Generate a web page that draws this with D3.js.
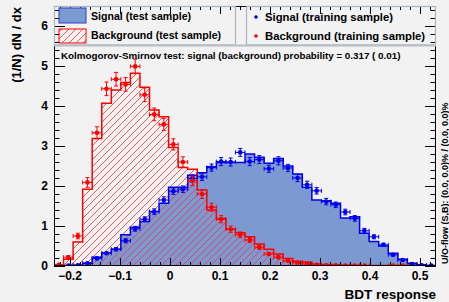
<!DOCTYPE html>
<html>
<head>
<meta charset="utf-8">
<script src="https://cdn.jsdelivr.net/npm/d3@7"></script>
<style>
  html, body { margin: 0; padding: 0; background: #f2f2f2; }
  svg { display: block; }
  text { font-family: "Liberation Sans", Arial, sans-serif; font-weight: bold; fill: #000; }
</style>
</head>
<body>
<div id="chart"></div>
<script>
// Histogram binning (BDT response axis)
const xMin = -0.232;
const xMax = 0.532;
const nBins = 40;

// Signal (test sample), normalised histogram
const sigTest = [0.00, 0.01, 0.02, 0.07, 0.22, 0.33, 0.42, 0.78, 0.97, 1.11,
                 1.36, 1.57, 1.97, 1.97, 2.27, 2.33, 2.48, 2.59, 2.59, 2.59,
                 2.80, 2.72, 2.57, 2.69, 2.50, 2.30, 1.97, 1.65, 1.63, 1.57,
                 1.20, 1.23, 0.82, 0.61, 0.50, 0.32, 0.17, 0.07, 0.03, 0.01];

// Background (test sample)
const bkgTest = [0.02, 0.17, 0.60, 1.92, 3.19, 4.07, 4.40, 4.59, 4.82, 4.47,
                 3.90, 3.73, 2.96, 2.46, 2.42, 1.90, 1.40, 1.19, 0.92, 0.83,
                 0.73, 0.55, 0.42, 0.30, 0.19, 0.12, 0.10, 0.05, 0.04, 0.03,
                 0.02, 0.02, 0.01, 0.01, 0.01, 0.01, 0.01, 0.00, 0.00, 0.00];

// Signal (training sample) points and errors
const sigTrain = [0.01, 0.01, 0.02, 0.07, 0.19, 0.32, 0.42, 0.63, 0.93, 1.17,
                  1.36, 1.65, 1.87, 1.92, 2.19, 2.23, 2.46, 2.61, 2.60, 2.84,
                  2.61, 2.66, 2.43, 2.63, 2.45, 2.20, 2.03, 1.88, 1.61, 1.53,
                  1.35, 1.19, 0.88, 0.73, 0.53, 0.28, 0.15, 0.05, 0.02, 0.01];
const sigTrainErr = [0.00, 0.00, 0.01, 0.02, 0.03, 0.03, 0.04, 0.05, 0.06, 0.06,
                     0.07, 0.08, 0.08, 0.08, 0.09, 0.09, 0.09, 0.10, 0.10, 0.10,
                     0.10, 0.10, 0.09, 0.10, 0.09, 0.09, 0.09, 0.08, 0.08, 0.07,
                     0.07, 0.07, 0.06, 0.05, 0.04, 0.03, 0.02, 0.01, 0.01, 0.01];

// Background (training sample) points and errors
const bkgTrain = [0.03, 0.22, 0.75, 2.09, 3.33, 4.43, 4.67, 4.54, 4.99, 4.28,
                  3.79, 3.54, 3.04, 2.60, 2.13, 1.80, 1.47, 1.17, 0.92, 0.78,
                  0.65, 0.47, 0.30, 0.22, 0.13, 0.08, 0.05, 0.03, 0.02, 0.02,
                  0.01, 0.01, 0.01, 0.00, 0.00, 0.01, 0.01, 0.00, 0.00, 0.00];
const bkgTrainErr = [0.01, 0.04, 0.07, 0.12, 0.15, 0.17, 0.17, 0.17, 0.18, 0.17,
                     0.16, 0.15, 0.14, 0.13, 0.12, 0.11, 0.10, 0.09, 0.08, 0.07,
                     0.06, 0.05, 0.04, 0.04, 0.03, 0.02, 0.02, 0.01, 0.01, 0.01,
                     0.01, 0.01, 0.01, 0.00, 0.00, 0.01, 0.01, 0.00, 0.00, 0.00];

const xTicks = [-0.2, -0.1, 0, 0.1, 0.2, 0.3, 0.4, 0.5];
const yTicks = [0, 1, 2, 3, 4, 5, 6];

const legendLeft = ['Signal (test sample)', 'Background (test sample)'];
const legendRight = ['Signal (training sample)', 'Background (training sample)'];
const ksText = 'Kolmogorov-Smirnov test: signal (background) probability = 0.317 ( 0.01)';
const flowText = 'U/O-flow (S,B): (0.0, 0.0)% / (0.0, 0.0)%';

// Set up the SVG area
const width = 449, height = 302;
const frame = { left: 54, right: 436, top: 6, bottom: 266 };

const svg = d3.select('#chart').append('svg')
  .attr('width', width)
  .attr('height', height);

svg.append('rect').attr('width', width).attr('height', height).attr('fill', '#f2f2f2');

const x = d3.scaleLinear().domain([xMin, xMax]).range([frame.left, frame.right]);
const y = d3.scaleLinear().domain([0, 6.5]).range([frame.bottom, frame.top]);

const binW = (xMax - xMin) / nBins;
const edge = i => xMin + i * binW;
const center = i => xMin + (i + 0.5) * binW;

// hatch pattern for background
const defs = svg.append('defs');
const hatch = defs.append('pattern')
  .attr('id', 'hatch')
  .attr('patternUnits', 'userSpaceOnUse')
  .attr('width', 7).attr('height', 7);
hatch.append('path')
  .attr('d', 'M0,7 L7,0 M-1,1 L1,-1 M6,8 L8,6')
  .attr('stroke', '#ff3030').attr('stroke-width', 0.8);

defs.append('clipPath').attr('id', 'clip')
  .append('rect')
  .attr('x', frame.left).attr('y', frame.top)
  .attr('width', frame.right - frame.left).attr('height', frame.bottom - frame.top);

// step outline of a histogram
function steps(values) {
  const pts = [[edge(0), 0]];
  values.forEach((v, i) => {
    pts.push([edge(i), v]);
    pts.push([edge(i + 1), v]);
  });
  pts.push([edge(nBins), 0]);
  return pts;
}

const line = d3.line().x(d => x(d[0])).y(d => y(d[1]));
const area = d3.area().x(d => x(d[0])).y0(y(0)).y1(d => y(d[1]));

const plot = svg.append('g').attr('clip-path', 'url(#clip)');

// Signal test histogram
plot.append('path').attr('d', area(steps(sigTest))).attr('fill', '#7d99d1');
// Background test histogram (hatched)
plot.append('path').attr('d', area(steps(bkgTest))).attr('fill', 'url(#hatch)');
plot.append('path').attr('d', line(steps(sigTest)))
  .attr('fill', 'none').attr('stroke', '#0000ee').attr('stroke-width', 1.5);
plot.append('path').attr('d', line(steps(bkgTest)))
  .attr('fill', 'none').attr('stroke', '#ff0000').attr('stroke-width', 1.5);

// Training sample points with error bars
function drawPoints(values, errors, color) {
  const g = plot.append('g').attr('stroke', color).attr('fill', color).attr('stroke-width', 1);
  values.forEach((v, i) => {
    if (v <= 0) return;
    const cx = x(center(i)), cy = y(v);
    const xl = x(edge(i)), xr = x(edge(i + 1));
    const yt = y(v + errors[i]), yb = y(v - errors[i]);
    g.append('line').attr('x1', xl).attr('x2', xr).attr('y1', cy).attr('y2', cy);
    g.append('line').attr('x1', xl).attr('x2', xl).attr('y1', cy - 2).attr('y2', cy + 2);
    g.append('line').attr('x1', xr).attr('x2', xr).attr('y1', cy - 2).attr('y2', cy + 2);
    if (errors[i] > 0) {
      g.append('line').attr('x1', cx).attr('x2', cx).attr('y1', yt).attr('y2', yb);
      g.append('line').attr('x1', cx - 2).attr('x2', cx + 2).attr('y1', yt).attr('y2', yt);
      g.append('line').attr('x1', cx - 2).attr('x2', cx + 2).attr('y1', yb).attr('y2', yb);
    }
    g.append('circle').attr('cx', cx).attr('cy', cy).attr('r', 2.3).attr('stroke', 'none');
  });
}
drawPoints(sigTrain, sigTrainErr, '#0000ee');
drawPoints(bkgTrain, bkgTrainErr, '#ff0000');

// Axes: ticks on all four sides
const xMinor = d3.range(-0.22, 0.5201, 0.02);
const yMinor = d3.range(0, 6.41, 0.2);
const axes = svg.append('g').attr('stroke', '#000').attr('stroke-width', 1);

xMinor.forEach(v => {
  const major = xTicks.some(t => Math.abs(t - v) < 1e-6);
  const len = major ? 8 : 4;
  const px = Math.round(x(v)) + 0.5;
  axes.append('line').attr('x1', px).attr('x2', px).attr('y1', frame.bottom).attr('y2', frame.bottom - len);
  axes.append('line').attr('x1', px).attr('x2', px).attr('y1', frame.top).attr('y2', frame.top + len);
});
yMinor.forEach(v => {
  const major = yTicks.some(t => Math.abs(t - v) < 1e-6);
  const len = major ? 11 : 5.5;
  const py = Math.round(y(v)) + 0.5;
  axes.append('line').attr('x1', frame.left).attr('x2', frame.left + len).attr('y1', py).attr('y2', py);
  axes.append('line').attr('x1', frame.right).attr('x2', frame.right - len).attr('y1', py).attr('y2', py);
});

// frame
svg.append('rect')
  .attr('x', frame.left + 0.5).attr('y', frame.top + 0.5)
  .attr('width', frame.right - frame.left - 1).attr('height', frame.bottom - frame.top - 1)
  .attr('fill', 'none').attr('stroke', '#000').attr('stroke-width', 1);

// tick labels
svg.append('g').selectAll('text').data(xTicks).enter().append('text')
  .attr('x', d => x(d))
  .attr('y', 280)
  .attr('text-anchor', 'middle')
  .attr('font-size', 12)
  .text(d => d === 0 ? '0' : d3.format('.1f')(d).replace('-', '\u2212'));

svg.append('g').selectAll('text').data(yTicks).enter().append('text')
  .attr('x', 48)
  .attr('y', d => y(d) + 4.3)
  .attr('text-anchor', 'end')
  .attr('font-size', 12)
  .text(d => d);

// axis titles
svg.append('text')
  .attr('x', 436).attr('y', 299)
  .attr('text-anchor', 'end')
  .attr('font-size', 13.5)
  .text('BDT response');

svg.append('text')
  .attr('transform', 'translate(21,7) rotate(-90)')
  .attr('text-anchor', 'end')
  .attr('font-size', 13)
  .text('(1/N) dN / dx');

svg.append('text')
  .attr('transform', 'translate(447.5,264) rotate(-90)')
  .attr('text-anchor', 'start')
  .attr('font-size', 9)
  .text(flowText);

// KS test text
svg.append('text')
  .attr('x', 61).attr('y', 58.5)
  .attr('font-size', 9.8)
  .text(ksText);

// Legends
const lg = svg.append('g');
lg.append('rect').attr('x', 54.5).attr('y', 6.5).attr('width', 181).attr('height', 38.5)
  .attr('fill', 'none').attr('stroke', '#a9b3bd').attr('stroke-width', 1.2);
lg.append('rect').attr('x', 246.5).attr('y', 6.5).attr('width', 189).attr('height', 38.5)
  .attr('fill', 'none').attr('stroke', '#a9b3bd').attr('stroke-width', 1.2);
lg.append('line').attr('x1', 54).attr('x2', 436).attr('y1', 45.5).attr('y2', 45.5)
  .attr('stroke', '#b8bec4').attr('stroke-width', 2);

lg.append('rect').attr('x', 59).attr('y', 8).attr('width', 27).attr('height', 15)
  .attr('fill', '#7d99d1').attr('stroke', '#2a3fd0').attr('stroke-width', 1);
lg.append('rect').attr('x', 59).attr('y', 29).attr('width', 27).attr('height', 14)
  .attr('fill', 'url(#hatch)').attr('stroke', '#ff0000').attr('stroke-width', 1);

lg.selectAll('.ll').data(legendLeft).enter().append('text')
  .attr('x', 91).attr('y', (d, i) => 20 + i * 19)
  .attr('font-size', 10.6)
  .text(d => d);

lg.selectAll('.lr').data(legendRight).enter().append('text')
  .attr('x', 265).attr('y', (d, i) => 20.5 + i * 19)
  .attr('font-size', 11.3)
  .text(d => d);

lg.append('circle').attr('cx', 256).attr('cy', 17).attr('r', 1.8).attr('fill', '#0000ee');
lg.append('circle').attr('cx', 256).attr('cy', 36).attr('r', 1.8).attr('fill', '#ff0000');
</script>
</body>
</html>
